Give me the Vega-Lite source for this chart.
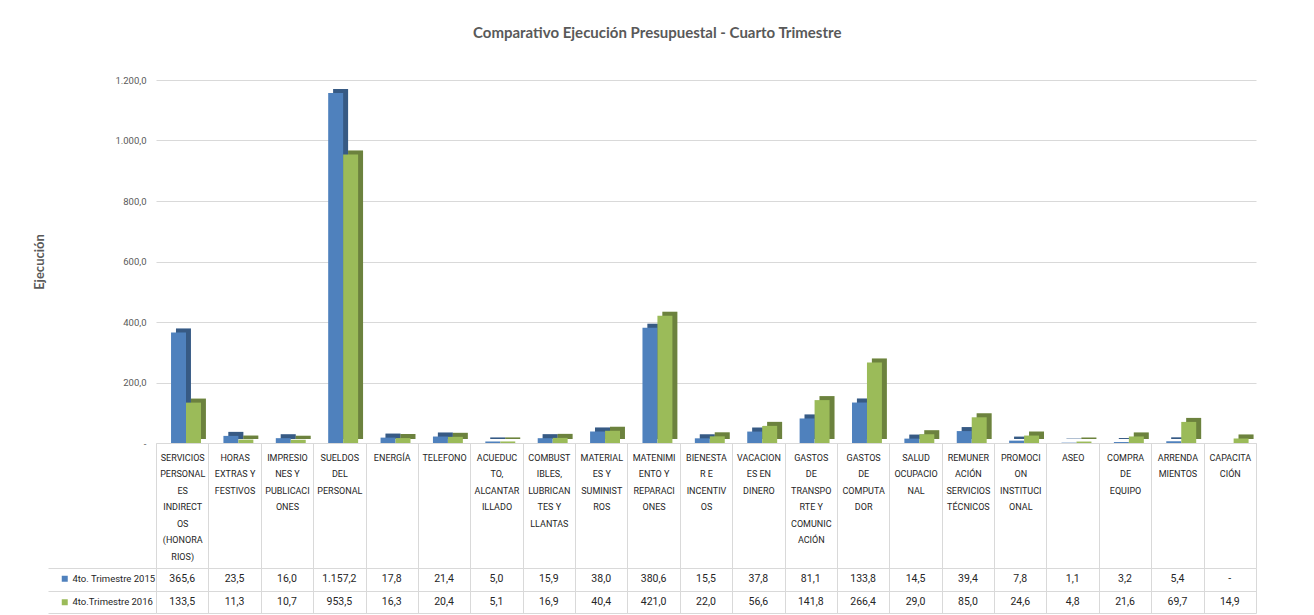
{
  "$schema": "https://vega.github.io/schema/vega-lite/v6.json",
  "padding": {"left": 33, "top": 26, "right": 10, "bottom": 0},
  "background": "white",
  "title": {"text": "Comparativo Ejecución Presupuestal - Cuarto Trimestre", "fontSize": 15, "font": "Lato", "fontWeight": "bold", "color": "#595959", "anchor": "middle", "offset": 34, "dx": 12},
  "datasets": {
    "d": [
      {"cat": "SERVICIOS|PERSONAL|ES|INDIRECT|OS|(HONORA|RIOS)", "serie": "4to. Trimestre 2015", "valor": 365.6},
      {"cat": "HORAS|EXTRAS Y|FESTIVOS", "serie": "4to. Trimestre 2015", "valor": 23.5},
      {"cat": "IMPRESIO|NES Y|PUBLICACI|ONES", "serie": "4to. Trimestre 2015", "valor": 16.0},
      {"cat": "SUELDOS|DEL|PERSONAL", "serie": "4to. Trimestre 2015", "valor": 1157.2},
      {"cat": "ENERGÍA", "serie": "4to. Trimestre 2015", "valor": 17.8},
      {"cat": "TELEFONO", "serie": "4to. Trimestre 2015", "valor": 21.4},
      {"cat": "ACUEDUC|TO,|ALCANTAR|ILLADO", "serie": "4to. Trimestre 2015", "valor": 5.0},
      {"cat": "COMBUST|IBLES,|LUBRICAN|TES Y|LLANTAS", "serie": "4to. Trimestre 2015", "valor": 15.9},
      {"cat": "MATERIAL|ES Y|SUMINIST|ROS", "serie": "4to. Trimestre 2015", "valor": 38.0},
      {"cat": "MATENIMI|ENTO Y|REPARACI|ONES", "serie": "4to. Trimestre 2015", "valor": 380.6},
      {"cat": "BIENESTA|R E|INCENTIV|OS", "serie": "4to. Trimestre 2015", "valor": 15.5},
      {"cat": "VACACION|ES EN|DINERO", "serie": "4to. Trimestre 2015", "valor": 37.8},
      {"cat": "GASTOS|DE|TRANSPO|RTE Y|COMUNIC|ACIÓN", "serie": "4to. Trimestre 2015", "valor": 81.1},
      {"cat": "GASTOS|DE|COMPUTA|DOR", "serie": "4to. Trimestre 2015", "valor": 133.8},
      {"cat": "SALUD|OCUPACIO|NAL", "serie": "4to. Trimestre 2015", "valor": 14.5},
      {"cat": "REMUNER|ACIÓN|SERVICIOS|TÉCNICOS", "serie": "4to. Trimestre 2015", "valor": 39.4},
      {"cat": "PROMOCI|ON|INSTITUCI|ONAL", "serie": "4to. Trimestre 2015", "valor": 7.8},
      {"cat": "ASEO", "serie": "4to. Trimestre 2015", "valor": 1.1},
      {"cat": "COMPRA|DE|EQUIPO", "serie": "4to. Trimestre 2015", "valor": 3.2},
      {"cat": "ARRENDA|MIENTOS", "serie": "4to. Trimestre 2015", "valor": 5.4},
      {"cat": "CAPACITA|CIÓN", "serie": "4to. Trimestre 2015", "valor": 0},
      {"cat": "SERVICIOS|PERSONAL|ES|INDIRECT|OS|(HONORA|RIOS)", "serie": "4to.Trimestre 2016", "valor": 133.5},
      {"cat": "HORAS|EXTRAS Y|FESTIVOS", "serie": "4to.Trimestre 2016", "valor": 11.3},
      {"cat": "IMPRESIO|NES Y|PUBLICACI|ONES", "serie": "4to.Trimestre 2016", "valor": 10.7},
      {"cat": "SUELDOS|DEL|PERSONAL", "serie": "4to.Trimestre 2016", "valor": 953.5},
      {"cat": "ENERGÍA", "serie": "4to.Trimestre 2016", "valor": 16.3},
      {"cat": "TELEFONO", "serie": "4to.Trimestre 2016", "valor": 20.4},
      {"cat": "ACUEDUC|TO,|ALCANTAR|ILLADO", "serie": "4to.Trimestre 2016", "valor": 5.1},
      {"cat": "COMBUST|IBLES,|LUBRICAN|TES Y|LLANTAS", "serie": "4to.Trimestre 2016", "valor": 16.9},
      {"cat": "MATERIAL|ES Y|SUMINIST|ROS", "serie": "4to.Trimestre 2016", "valor": 40.4},
      {"cat": "MATENIMI|ENTO Y|REPARACI|ONES", "serie": "4to.Trimestre 2016", "valor": 421.0},
      {"cat": "BIENESTA|R E|INCENTIV|OS", "serie": "4to.Trimestre 2016", "valor": 22.0},
      {"cat": "VACACION|ES EN|DINERO", "serie": "4to.Trimestre 2016", "valor": 56.6},
      {"cat": "GASTOS|DE|TRANSPO|RTE Y|COMUNIC|ACIÓN", "serie": "4to.Trimestre 2016", "valor": 141.8},
      {"cat": "GASTOS|DE|COMPUTA|DOR", "serie": "4to.Trimestre 2016", "valor": 266.4},
      {"cat": "SALUD|OCUPACIO|NAL", "serie": "4to.Trimestre 2016", "valor": 29.0},
      {"cat": "REMUNER|ACIÓN|SERVICIOS|TÉCNICOS", "serie": "4to.Trimestre 2016", "valor": 85.0},
      {"cat": "PROMOCI|ON|INSTITUCI|ONAL", "serie": "4to.Trimestre 2016", "valor": 24.6},
      {"cat": "ASEO", "serie": "4to.Trimestre 2016", "valor": 4.8},
      {"cat": "COMPRA|DE|EQUIPO", "serie": "4to.Trimestre 2016", "valor": 21.6},
      {"cat": "ARRENDA|MIENTOS", "serie": "4to.Trimestre 2016", "valor": 69.7},
      {"cat": "CAPACITA|CIÓN", "serie": "4to.Trimestre 2016", "valor": 14.9}
    ]
  },
  "bounds": "flush",
  "spacing": 125,
  "vconcat": [
    {
      "width": 1100,
      "height": 363,
      "data": {"name": "d"},
      "encoding": {
        "x": {
          "field": "cat", "type": "nominal", "sort": null,
          "scale": {"paddingInner": 0, "paddingOuter": 0},
          "axis": {
            "title": null, "labelExpr": "split(datum.label, '|')", "labelAngle": 0,
            "labelBaseline": "top", "labelLineHeight": 16.5, "labelFontSize": 9, "labelFont": "Roboto",
            "labelColor": "#262626", "tickBand": "extent", "tickSize": 125, "tickColor": "#d9d9d9",
            "labelPadding": -115, "domainColor": "#d9d9d9", "labelLimit": 0
          }
        },
        "y": {
          "field": "valor", "type": "quantitative",
          "scale": {"domain": [0, 1200], "nice": false},
          "axis": {
            "title": "Ejecución", "titleFontSize": 13, "titleFont": "Lato", "titleFontWeight": "bold", "titleColor": "#595959",
            "titlePadding": 68, "values": [0, 200, 400, 600, 800, 1000, 1200], "format": ",.1f",
            "labelExpr": "datum.value == 0 ? '-' : datum.label", "labelColor": "#595959", "labelFont": "Roboto",
            "labelFontSize": 9.5, "labelPadding": 10, "ticks": false, "domain": false, "gridColor": "#d9d9d9"
          }
        }
      },
      "resolve": {"scale": {"xOffset": "independent"}},
      "layer": [
        {
          "mark": {"type": "bar", "yOffset": -4, "y2Offset": -4},
          "encoding": {
            "xOffset": {"field": "serie", "type": "nominal", "sort": null, "scale": {"paddingOuter": 0.75, "paddingInner": 0, "align": 0.89}},
            "color": {"field": "serie", "type": "nominal"}
          }
        },
        {
          "mark": {"type": "bar", "yOffset": -4, "y2Offset": -4, "color": "#000000", "opacity": 0.3},
          "encoding": {
            "xOffset": {"field": "serie", "type": "nominal", "sort": null, "scale": {"paddingOuter": 0.75, "paddingInner": 0, "align": 0.89}}
          }
        },
        {
          "mark": {"type": "bar"},
          "encoding": {
            "xOffset": {"field": "serie", "type": "nominal", "sort": null, "scale": {"paddingOuter": 0.75, "paddingInner": 0, "align": 0.67}},
            "color": {
              "field": "serie", "type": "nominal",
              "scale": {"domain": ["4to. Trimestre 2015", "4to.Trimestre 2016"], "range": ["#4f81bd", "#9bbb59"]},
              "legend": {
                "orient": "none", "legendX": -96, "legendY": 494, "title": null,
                "symbolType": "square", "symbolSize": 36, "symbolStrokeWidth": 0,
                "labelFont": "Roboto", "labelFontSize": 9.5, "labelColor": "#262626", "rowPadding": 12.5, "labelLimit": 200, "labelOffset": 3
              }
            }
          }
        }
      ]
    },
    {
      "width": 1100,
      "height": 45,
      "data": {"name": "d"},
      "mark": {"type": "text", "fontSize": 10.5, "font": "Roboto", "color": "#262626"},
      "encoding": {
        "x": {
          "field": "cat", "type": "nominal", "sort": null,
          "scale": {"paddingInner": 0, "paddingOuter": 0},
          "axis": {"labels": false, "ticks": false, "domain": false, "title": null, "grid": true, "tickBand": "extent", "gridColor": "#d9d9d9"}
        },
        "y": {
          "field": "serie", "type": "nominal", "sort": null,
          "scale": {"paddingInner": 0, "paddingOuter": 0},
          "axis": {"labels": false, "title": null, "grid": true, "tickBand": "extent", "tickSize": 108, "tickColor": "#d9d9d9", "gridColor": "#d9d9d9", "domain": false}
        },
        "text": {"condition": {"test": "datum.valor == 0", "value": "-"}, "field": "valor", "type": "quantitative", "format": ",.1f"}
      }
    }
  ],
  "config": {
    "font": "Roboto",
    "view": {"stroke": null},
    "locale": {"number": {"decimal": ",", "thousands": ".", "grouping": [3], "currency": ["", ""]}}
  }
}
